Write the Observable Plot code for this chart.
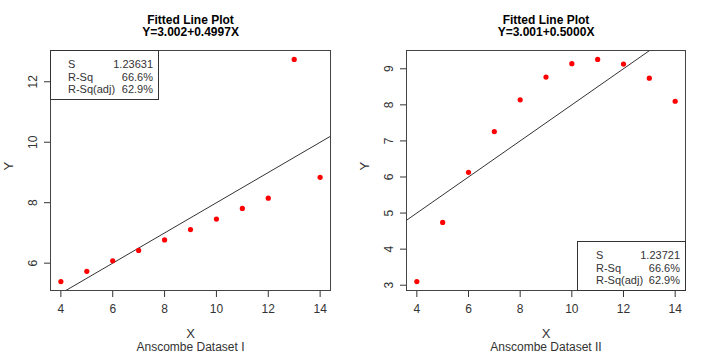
<!DOCTYPE html>
<html><head><meta charset="utf-8">
<script src="https://cdn.jsdelivr.net/npm/d3@7"></script>
<script src="https://cdn.jsdelivr.net/npm/@observablehq/plot@0.6"></script>
<style>
body{margin:0;background:#fff;font-family:"Liberation Sans",Arial,sans-serif;}
#wrap{position:relative;width:711px;height:353px;display:flex;}
.leg{position:absolute;border:1px solid #333;box-sizing:border-box;font-size:11px;color:#333;line-height:12.6px;}
.leg .r{display:flex;justify-content:space-between;}
</style>
</head><body>
<div id="wrap"></div>
<script>
// Data
const xValues = [4, 5, 6, 7, 8, 9, 10, 11, 12, 13, 14];
const yDataset1 = [5.39, 5.73, 6.08, 6.42, 6.77, 7.11, 7.46, 7.81, 8.15, 12.74, 8.84];
const yDataset2 = [3.10, 4.74, 6.13, 7.26, 8.14, 8.77, 9.14, 9.26, 9.13, 8.74, 8.10];
const coef1 = {intercept: 3.002, slope: 0.4997};
const coef2 = {intercept: 3.001, slope: 0.5000};
const titles = ["Fitted Line Plot", "Fitted Line Plot"];
const equations = ["Y=3.002+0.4997X", "Y=3.001+0.5000X"];
const subtitles = ["Anscombe Dataset I", "Anscombe Dataset II"];
const statLabels = ["S", "R-Sq", "R-Sq(adj)"];
const stats1 = ["1.23631", "66.6%", "62.9%"];
const stats2 = ["1.23721", "66.6%", "62.9%"];
const xTicks = [4, 6, 8, 10, 12, 14];
const yTicks1 = [6, 8, 10, 12];
const yTicks2 = [3, 4, 5, 6, 7, 8, 9];

function pad(ext) { const d = (ext[1] - ext[0]) * 0.04; return [ext[0] - d, ext[1] + d]; }

function panel(ys, coef, yTicks, title, eq, sub, width, ml, mr) {
  const xDom = pad(d3.extent(xValues));
  const yDom = pad(d3.extent(ys));
  const pts = xValues.map((x, i) => ({x, y: ys[i]}));
  const fit = xDom.map(x => ({x, y: coef.intercept + coef.slope * x}));
  const font = "Liberation Sans, Arial, sans-serif";
  return Plot.plot({
    width, height: 353,
    marginLeft: ml, marginRight: mr, marginTop: 50, marginBottom: 63,
    style: {fontFamily: font, background: "#fff"},
    x: {domain: xDom, axis: null},
    y: {domain: yDom, axis: null},
    marks: [
      Plot.axisX(xTicks, {tickSize: 7, tickFormat: () => "", stroke: "#333", label: null}),
      Plot.axisY(yTicks, {tickSize: 6, tickFormat: () => "", stroke: "#333", label: null}),
      Plot.text(xTicks, {x: d => d, text: d => String(d), frameAnchor: "bottom", dy: 19, lineAnchor: "middle", fontSize: 12, fill: "#333"}),
      Plot.text(yTicks, {y: d => d, text: d => String(d), frameAnchor: "left", dx: -17, rotate: -90, textAnchor: "middle", lineAnchor: "middle", fontSize: 12, fill: "#333"}),
      Plot.line(fit, {x: "x", y: "y", stroke: "#333", strokeWidth: 1, clip: true}),
      Plot.dot(pts, {x: "x", y: "y", r: 2.6, fill: "#ff0000", stroke: "none"}),
      Plot.frame({stroke: "#444", strokeWidth: 1}),
      Plot.text([title], {frameAnchor: "top", dy: -30.5, lineAnchor: "middle", fontWeight: "bold", fontSize: 12, fill: "#000"}),
      Plot.text([eq], {frameAnchor: "top", dy: -18, lineAnchor: "middle", fontWeight: "bold", fontSize: 12, fill: "#000"}),
      Plot.text(["X"], {frameAnchor: "bottom", dy: 43, lineAnchor: "middle", fontSize: 13, fill: "#333"}),
      Plot.text([sub], {frameAnchor: "bottom", dy: 57, lineAnchor: "middle", fontSize: 12, fill: "#333"}),
      Plot.text(["Y"], {frameAnchor: "left", dx: -42, rotate: -90, lineAnchor: "middle", fontSize: 13, fill: "#333"})
    ]
  });
}

const wrap = document.getElementById("wrap");
wrap.appendChild(panel(yDataset1, coef1, yTicks1, titles[0], equations[0], subtitles[0], 355, 50, 25));
wrap.appendChild(panel(yDataset2, coef2, yTicks2, titles[1], equations[1], subtitles[1], 356, 51, 26));

function legend(stats, left, top, w, h, pl, pr, pt) {
  const div = document.createElement("div");
  div.className = "leg";
  Object.assign(div.style, {left: left + "px", top: top + "px", width: w + "px", height: h + "px",
    paddingLeft: pl + "px", paddingRight: pr + "px", paddingTop: pt + "px"});
  statLabels.forEach((l, i) => {
    const r = document.createElement("div");
    r.className = "r";
    const a = document.createElement("span"); a.textContent = l;
    const b = document.createElement("span"); b.textContent = stats[i];
    r.appendChild(a); r.appendChild(b);
    div.appendChild(r);
  });
  wrap.appendChild(div);
}
legend(stats1, 50, 50, 109, 50, 17, 5, 7);
legend(stats2, 577, 241, 109, 50, 18, 5, 7);
</script>
</body></html>
